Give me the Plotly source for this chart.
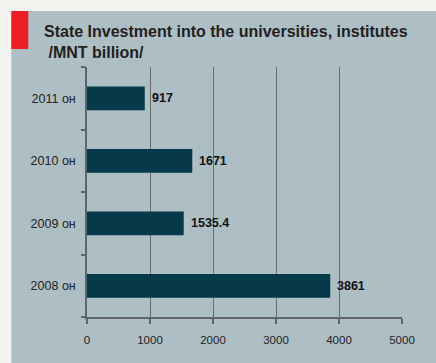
import plotly.graph_objects as go

categories = ["2008 он", "2009 он", "2010 он", "2011 он"]
values = [3861, 1535.4, 1671, 917]
value_labels = ["3861", "1535.4", "1671", "917"]
x_ticks = [0, 1000, 2000, 3000, 4000, 5000]

W, H = 436, 363
L, R, T, B = 86.7, 34.3, 67, 46
pw, ph = W - L - R, H - T - B

def px_x(p):
    return (p - L) / pw

def px_y(p):
    return (H - B - p) / ph

FONT = "Liberation Sans, Arial, sans-serif"

fig = go.Figure()
fig.add_trace(go.Bar(
    y=categories, x=values, orientation="h",
    marker=dict(color="#063a4a", line=dict(width=0)),
    width=0.38, hoverinfo="skip",
))

for c, v, t in zip(categories, values, value_labels):
    fig.add_annotation(x=v, y=c, xref="x", yref="y", text="<b>" + t + "</b>",
                       showarrow=False, xanchor="left", yanchor="middle", xshift=5,
                       font=dict(family=FONT, size=12.5, color="#111111"))

shapes = [
    dict(type="rect", xref="paper", yref="paper", layer="below",
         x0=px_x(11), x1=px_x(436), y0=px_y(11), y1=px_y(363),
         fillcolor="#adbec5", line=dict(width=0)),
    dict(type="rect", xref="paper", yref="paper", layer="above",
         x0=px_x(11), x1=px_x(28), y0=px_y(11), y1=px_y(49),
         fillcolor="#ee1c25", line=dict(width=0)),
]

annotations_title = [
    dict(text="<b>State Investment into the universities, institutes</b>", x=px_x(42), y=px_y(21)),
    dict(text="<b> /MNT billion/</b>", x=px_x(42), y=px_y(42)),
]
for a in annotations_title:
    fig.add_annotation(text=a["text"], x=a["x"], y=a["y"], xref="paper", yref="paper",
                       showarrow=False, xanchor="left", yanchor="top",
                       font=dict(family=FONT, size=16, color="#231f20"))

fig.update_layout(
    width=W, height=H,
    margin=dict(l=L, r=R, t=T, b=B, pad=0),
    paper_bgcolor="#f3f3ef",
    plot_bgcolor="rgba(0,0,0,0)",
    shapes=shapes,
    showlegend=False,
    bargap=0.62,
    xaxis=dict(range=[0, 5000], tickvals=x_ticks, ticktext=[str(v) for v in x_ticks],
               showgrid=True, gridcolor="#6c6c6c", gridwidth=1,
               showline=True, linecolor="#5f6468", linewidth=1.5,
               ticks="outside", ticklen=5, tickcolor="#5f6468", tickwidth=1.5,
               zeroline=False, fixedrange=True, ticklabelstandoff=6,
               tickfont=dict(family=FONT, size=11.5, color="#222222")),
    yaxis=dict(categoryorder="array", categoryarray=categories,
               showgrid=False, showline=True, linecolor="#5f6468", linewidth=1.5,
               ticks="outside", ticklen=4, tickcolor="#5f6468", tickwidth=1.5,
               tickson="boundaries", ticklabelstandoff=7,
               tickfont=dict(family=FONT, size=12.5, color="#222222")),
)

fig.write_html("out.html")
